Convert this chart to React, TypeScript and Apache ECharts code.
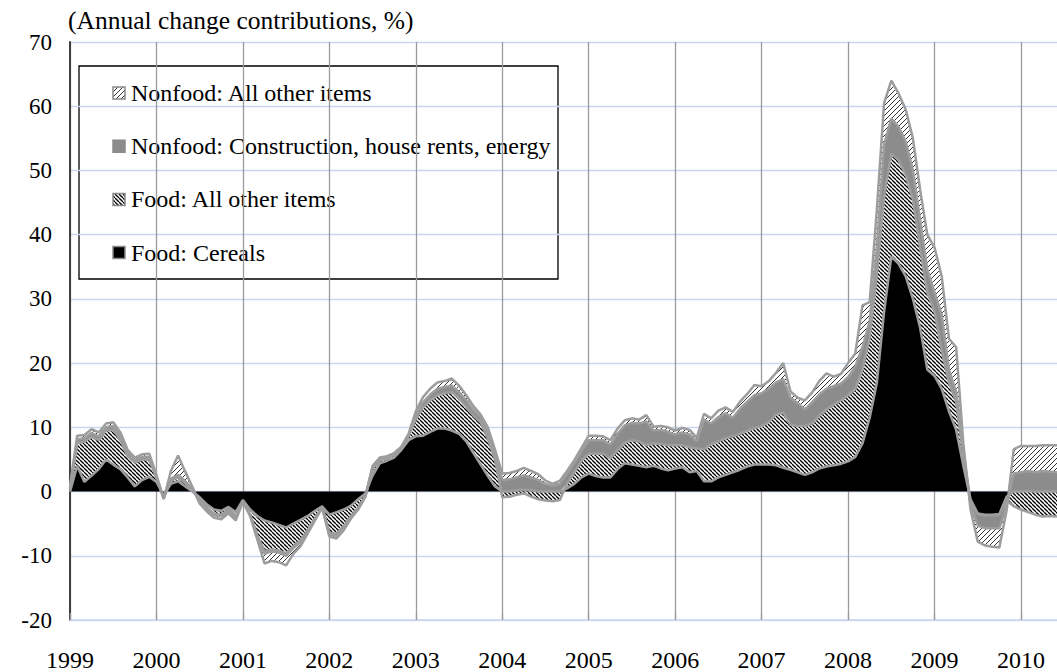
import React, { useEffect, useRef } from 'react';
import * as echarts from 'echarts';

// Monthly data, January 1999 onwards (annual change contributions, %)
const startYear = 1999;

const cereals = [
  0, 4.0, 1.5, 2.5, 3.5, 5.0, 4.2, 3.5, 2.2, 0.8, 1.8, 2.3,
  1.5, -0.6, 1.2, 1.6, 0.8, 0.0, -0.9, -2.0, -2.8, -3.0, -2.4, -3.2,
  -1.3, -2.8, -3.8, -4.5, -4.8, -5.2, -5.6, -5.0, -4.4, -3.8, -3.0, -2.3,
  -3.6, -3.2, -2.8, -2.2, -1.2, -0.3, 2.5, 4.4, 4.8, 5.3, 6.5, 8.0,
  8.6, 8.7, 9.3, 9.8, 9.8, 9.5, 9.0, 7.8, 6.0, 4.2, 2.4, 0.8,
  0, 0, 0.2, 0.3, 0.2, 0, 0, 0, 0, 0.5, 1.2, 2.2,
  2.8, 2.4, 2.2, 2.2, 3.5, 4.4, 4.2, 4.0, 3.8, 4.0, 3.6, 3.3,
  3.6, 3.8, 3.0, 3.2, 1.6, 1.6, 2.2, 2.6, 3.0, 3.4, 3.9, 4.2,
  4.2, 4.2, 4.1, 3.7, 3.4, 3.0, 2.6, 3.0, 3.6, 3.9, 4.1, 4.3,
  4.7, 5.4, 7.5, 11.5, 17.0, 28.0, 36.6, 35.5, 33.5, 30.0, 25.5, 19.0,
  18.0, 16.0, 12.5, 9.6, 4.0, -1.2, -3.4, -3.6, -3.6, -3.5, -0.8, 0,
  0, 0.1, 0, 0, 0, 0,
];

const foodOther = [
  0.4, 3.5, 6.3, 6.0, 4.5, 4.5, 5.4, 4.5, 3.3, 3.7, 3.2, 2.7,
  0.6, -0.4, 0.5, 0.6, 0.5, 0.2, -0.4, -0.5, -0.6, -0.6, -0.4, -0.6,
  -0.2, -0.8, -3.0, -4.8, -4.2, -4.0, -4.0, -3.5, -3.2, -2.2, -1.2, -0.1,
  -2.8, -3.4, -2.6, -1.6, -1.3, -0.4, 1.0, 0.5, 0.4, 0.4, 0.3, 0.6,
  2.7, 4.4, 4.9, 5.2, 5.5, 6.0, 5.5, 5.4, 5.8, 6.6, 5.8, 4.2,
  -0.9, -0.8, -0.5, -0.3, -0.8, -1.2, -1.4, -1.5, -1.3, 0.8, 1.8, 2.6,
  3.1, 3.5, 3.7, 3.0, 3.0, 3.2, 3.8, 3.8, 3.4, 3.5, 3.8, 3.9,
  3.6, 3.4, 3.9, 3.5, 5.0, 5.8, 5.6, 5.7, 5.6, 5.6, 5.6, 5.7,
  6.0, 6.6, 7.9, 8.6, 7.0, 7.2, 7.6, 7.6, 8.2, 8.9, 9.4, 9.9,
  10.3, 10.6, 11.5, 12.5, 17.0, 18.0, 16.0, 16.1, 15.8, 15.5, 12.5, 12.0,
  10.0, 6.0, 4.5, 4.4, 1.5, -0.3, -0.1, -0.1, -0.1, -0.1, -0.6, -2.3,
  -2.8, -3.2, -3.6, -3.9, -3.8, -3.9,
];

const construction = [
  0.2, 0.6, 0.5, 0.6, 0.6, 0.5, 0.6, 0.6, 0.5, 0.4, 0.4, 0.4,
  0.2, -0.1, 0.3, 0.4, 0.3, 0.2, -0.3, -0.3, -0.3, -0.3, -0.3, -0.3,
  -0.05, -0.1, -0.3, -0.4, -0.3, -0.3, -0.4, -0.3, -0.3, -0.2, -0.1, -0.05,
  -0.3, -0.3, -0.3, -0.2, -0.2, -0.05, 0.3, 0.2, 0.15, 0.15, 0.1, 0.2,
  0.6, 0.8, 0.9, 1.0, 1.0, 1.0, 1.0, 1.0, 0.9, 0.8, 1.0, 1.0,
  1.8, 1.9, 2.0, 2.2, 2.0, 1.8, 1.2, 0.9, 1.2, 1.5, 1.5, 1.5,
  2.1, 2.1, 2.1, 2.1, 2.5, 2.7, 2.7, 2.8, 3.7, 2.0, 2.2, 2.1,
  1.7, 2.0, 2.0, 1.1, 4.6, 3.2, 3.8, 3.9, 2.9, 3.9, 4.5, 5.1,
  5.1, 5.2, 5.0, 5.2, 4.2, 3.6, 2.6, 3.3, 3.3, 3.2, 2.9, 2.6,
  2.8, 3.5, 3.5, 2.5, 4.0, 8.0, 5.5, 5.2, 5.2, 4.5, 4.3, 3.5,
  3.0, 5.5, 2.0, 1.5, 0.8, -0.5, -1.8, -2.0, -2.0, -2.1, -0.8, 2.8,
  3.0, 3.1, 3.0, 3.2, 3.1, 3.0,
];

const nonfoodOther = [
  0.2, 0.6, 0.5, 0.6, 0.6, 0.6, 0.6, 0.6, 0.5, 0.4, 0.4, 0.5,
  0.3, -0.1, 1.2, 3.0, 1.5, 0.3, -0.3, -0.3, -0.4, -0.4, -0.3, -0.4,
  -0.05, -0.1, -0.4, -1.5, -1.5, -1.5, -1.5, -0.9, -0.6, -0.3, -0.2, -0.05,
  -0.3, -0.4, -0.3, -0.2, -0.1, -0.05, 0.2, 0.2, 0.15, 0.15, 0.1, 0.2,
  0.6, 0.8, 0.9, 1.0, 0.9, 1.1, 1.0, 0.8, 0.6, 0.4, 0.8, 0.5,
  1.0, 1.0, 1.0, 1.2, 1.0, 0.9, 0.5, 0.3, 0.5, 0.4, 0.4, 0.5,
  0.7, 0.7, 0.6, 0.7, 0.8, 0.8, 0.7, 0.6, 1.0, 0.6, 0.6, 0.7,
  0.6, 0.7, 0.7, 0.6, 0.9, 0.8, 1.0, 0.9, 0.9, 1.1, 1.2, 1.6,
  1.1, 1.2, 1.5, 2.5, 1.0, 0.8, 1.4, 1.5, 2.1, 2.4, 1.5, 1.5,
  2.2, 2.0, 6.5, 3.0, 6.0, 6.5, 5.9, 5.2, 5.0, 5.0, 4.7, 5.5,
  7.0, 6.0, 4.8, 7.0, 1.2, -0.8, -2.5, -2.7, -2.9, -3.0, -0.8, 3.8,
  4.1, 3.9, 4.1, 4.0, 4.1, 4.2,
];

const seriesNames = [
  'Food: Cereals',
  'Food: All other items',
  'Nonfood: Construction, house rents, energy',
  'Nonfood: All other items',
];

const titleText = '(Annual change contributions, %)';
const yMin = -20;
const yMax = 70;
const yStep = 10;

// month categories "YYYY-MM"
const months = cereals.map((_, i) => {
  const y = startYear + Math.floor(i / 12);
  const m = (i % 12) + 1;
  return `${y}-${m < 10 ? '0' + m : m}`;
});

function hatch(size: number, dir: 'back' | 'fwd', lineColor: string, lineWidth: number) {
  const c = document.createElement('canvas');
  c.width = size;
  c.height = size;
  const g = c.getContext('2d') as CanvasRenderingContext2D;
  g.fillStyle = '#ffffff';
  g.fillRect(0, 0, size, size);
  g.strokeStyle = lineColor;
  g.lineWidth = lineWidth;
  for (let k = -1; k <= 1; k++) {
    g.beginPath();
    if (dir === 'back') {
      g.moveTo(k * size, 0);
      g.lineTo(k * size + size, size);
    } else {
      g.moveTo(k * size, size);
      g.lineTo(k * size + size, 0);
    }
    g.stroke();
  }
  return { image: c.toDataURL(), repeat: 'repeat', imageWidth: size, imageHeight: size };
}

const isJan = (index: number) => index % 12 === 0;

export default function App() {
  const ref = useRef<HTMLDivElement>(null);
  useEffect(() => {
    if (!ref.current) return;
    const chart = echarts.init(ref.current, null, { renderer: 'svg' });

    const foodPat = hatch(4, 'back', '#000000', 1.3);
    const nonfoodPat = hatch(5, 'fwd', '#333333', 1.0);
    const fills = ['#000000', foodPat, '#8c8c8c', nonfoodPat];
    const values = [cereals, foodOther, construction, nonfoodOther];

    const series = values.map((vals, s) => ({
      type: 'line',
      name: seriesNames[s],
      stack: 'total',
      data: vals,
      showSymbol: false,
      symbol: 'none',
      smooth: false,
      lineStyle: { color: '#9d9d9d', width: 2.5 },
      itemStyle: { color: '#9d9d9d' },
      areaStyle: { color: fills[s] as any, opacity: 1 },
      emphasis: { disabled: true },
      z: 2,
    }));

    const legendOrder = [3, 2, 1, 0];
    const legendChildren: any[] = [
      {
        type: 'rect',
        shape: { x: 0, y: 0, width: 479, height: 213 },
        style: { fill: '#ffffff', stroke: '#000000', lineWidth: 1.3 },
      },
    ];
    legendOrder.forEach((s, j) => {
      const cy = 27 + j * 53.2;
      legendChildren.push({
        type: 'rect',
        shape: { x: 34, y: cy - 6, width: 12, height: 12 },
        style: { fill: fills[s], stroke: '#8a8a8a', lineWidth: 1.5 },
      });
      legendChildren.push({
        type: 'text',
        x: 52,
        y: cy,
        style: {
          text: seriesNames[s],
          fontFamily: 'Liberation Serif',
          fontSize: 24,
          fill: '#000000',
          verticalAlign: 'middle',
          align: 'left',
        },
      });
    });

    const option: any = {
      animation: false,
      backgroundColor: '#ffffff',
      grid: { left: 70, right: 0, top: 42, bottom: 51, containLabel: false },
      xAxis: [
        {
          type: 'category',
          data: months,
          boundaryGap: false,
          axisLine: { show: false },
          axisTick: { show: false },
          axisLabel: {
            show: true,
            interval: (index: number) => isJan(index),
            margin: 28,
            fontFamily: 'Liberation Serif',
            fontSize: 24,
            color: '#000000',
            formatter: (v: string) => v.slice(0, 4),
          },
          splitLine: {
            show: true,
            interval: (index: number) => isJan(index),
            lineStyle: { color: '#9a9a9a', width: 1.3 },
          },
        },
        {
          type: 'category',
          data: months,
          boundaryGap: false,
          position: 'bottom',
          z: 10,
          axisLine: { show: true, onZero: true, lineStyle: { color: '#c9d6f0', width: 1.5 } },
          axisTick: {
            show: true,
            inside: true,
            length: 7,
            interval: (index: number) => isJan(index),
            lineStyle: { color: '#9a9a9a', width: 1.3 },
          },
          axisLabel: { show: false },
          splitLine: { show: false },
        },
      ],
      yAxis: {
        type: 'value',
        min: yMin,
        max: yMax,
        interval: yStep,
        axisLine: { show: true, onZero: false, lineStyle: { color: '#404040', width: 2 } },
        axisTick: { show: false },
        axisLabel: {
          margin: 18,
          fontFamily: 'Liberation Serif',
          fontSize: 23,
          color: '#000000',
        },
        splitLine: { show: true, lineStyle: { color: '#c9d6f0', width: 1.3 } },
      },
      series,
      graphic: [
        {
          type: 'text',
          x: 68,
          y: 20,
          z: 100,
          style: {
            text: titleText,
            fontFamily: 'Liberation Serif',
            fontSize: 25.5,
            fill: '#000000',
            verticalAlign: 'middle',
            align: 'left',
          },
        },
        {
          type: 'group',
          x: 79,
          y: 66,
          z: 100,
          children: legendChildren,
        },
      ],
    };

    chart.setOption(option);
    return () => chart.dispose();
  }, []);

  return (
    <div
      ref={ref}
      style={{ position: 'fixed', left: 0, top: 0, width: 1057, height: 672, background: '#ffffff' }}
    />
  );
}
